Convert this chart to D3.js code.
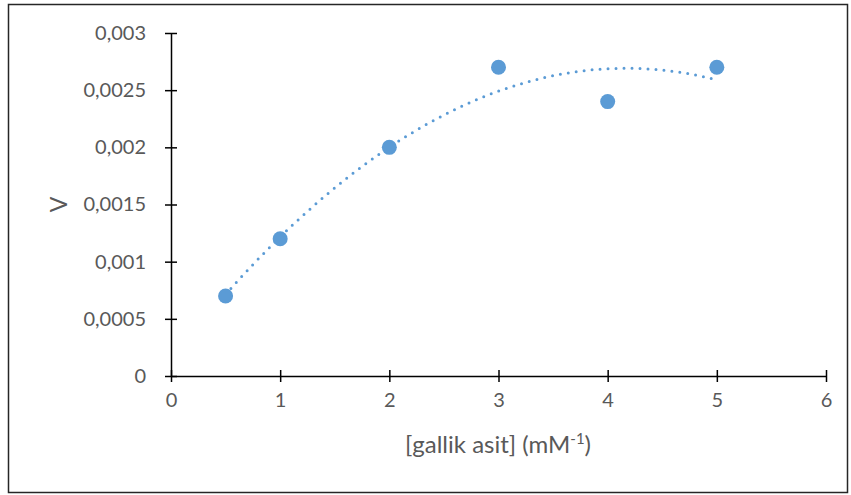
<!DOCTYPE html>
<html>
<head>
<meta charset="utf-8">
<script src="https://cdn.jsdelivr.net/npm/d3@7"></script>
<style>
  body { margin: 0; background: #fff; }
  svg { display: block; }
  text { font-family: Lato, "Open Sans", sans-serif; fill: #595959; }
</style>
</head>
<body>
<svg id="chart" width="851" height="495"></svg>
<script>
// Measured points
const concentrations = [0.5, 1, 2, 3, 4, 5];
const velocities = [0.0007, 0.0012, 0.002, 0.0027, 0.0024, 0.0027];
const xTicks = [0, 1, 2, 3, 4, 5, 6];
const yTicks = [0, 0.0005, 0.001, 0.0015, 0.002, 0.0025, 0.003];

const svg = d3.select("#chart");
const color = "#5B9BD5";
const font = "Lato, 'Open Sans', sans-serif";

// Outer frame
svg.append("rect")
  .attr("x", 8.5).attr("y", 4.5)
  .attr("width", 839).attr("height", 488)
  .attr("fill", "#fff").attr("stroke", "#262626").attr("stroke-width", 1.5);

const x = d3.scaleLinear().domain([0, 6]).range([171, 826]);
const y = d3.scaleLinear().domain([0, 0.003]).range([376, 33]);

const fmt = d => d === 0 ? "0" : String(d).replace(".", ",");

// Axes with ticks crossing the line
const xAxis = svg.append("g").attr("transform", `translate(0,${y(0)})`)
  .call(d3.axisBottom(x).tickValues(xTicks).tickSize(0).tickPadding(24).tickFormat(d => d));
xAxis.selectAll(".tick").append("line").attr("y1", -6).attr("y2", 6);

const yAxis = svg.append("g").attr("transform", `translate(${x(0)},0)`)
  .call(d3.axisLeft(y).tickValues(yTicks).tickSize(0).tickPadding(25).tickFormat(fmt));
yAxis.selectAll(".tick").append("line").attr("x1", -6).attr("x2", 6);

[xAxis, yAxis].forEach(g => {
  g.select(".domain").attr("stroke", "#000").attr("stroke-width", 1.5);
  g.selectAll(".tick line").attr("stroke", "#000").attr("stroke-width", 1.5);
  g.selectAll(".tick text").attr("fill", "#595959").style("font-size", "20px")
    .style("font-family", font);
});
xAxis.selectAll(".tick text").attr("dy", "0.36em")
  .attr("dominant-baseline", "auto");

// Second-order least-squares trendline
function polyFit2(xs, ys) {
  let S = [0,0,0,0,0], T = [0,0,0];
  xs.forEach((xi, i) => {
    for (let k = 0; k < 5; k++) S[k] += Math.pow(xi, k);
    for (let k = 0; k < 3; k++) T[k] += ys[i] * Math.pow(xi, k);
  });
  const A = [[S[0],S[1],S[2],T[0]],[S[1],S[2],S[3],T[1]],[S[2],S[3],S[4],T[2]]];
  for (let c = 0; c < 3; c++) {
    for (let r = c + 1; r < 3; r++) {
      const f = A[r][c] / A[c][c];
      for (let k = c; k < 4; k++) A[r][k] -= f * A[c][k];
    }
  }
  const b = [0,0,0];
  for (let r = 2; r >= 0; r--) {
    let s = A[r][3];
    for (let k = r + 1; k < 3; k++) s -= A[r][k] * b[k];
    b[r] = s / A[r][r];
  }
  return b;
}
const coef = polyFit2(concentrations, velocities);
const xMin = d3.min(concentrations), xMax = d3.max(concentrations);
const curve = d3.range(0, 101).map(i => {
  const xv = xMin + (xMax - xMin) * i / 100;
  return [xv, coef[0] + coef[1] * xv + coef[2] * xv * xv];
});
svg.append("path")
  .datum(curve)
  .attr("d", d3.line().x(d => x(d[0])).y(d => y(d[1])))
  .attr("fill", "none").attr("stroke", color).attr("stroke-width", 3)
  .attr("stroke-linecap", "round").attr("stroke-dasharray", "0 8");

// Data markers
svg.append("g").selectAll("circle")
  .data(concentrations.map((c, i) => [c, velocities[i]]))
  .join("circle")
  .attr("cx", d => x(d[0])).attr("cy", d => y(d[1])).attr("r", 7.5)
  .attr("fill", color);

// Axis titles
const xt = svg.append("text").attr("x", 498).attr("y", 453)
  .attr("text-anchor", "middle").style("font-size", "24px");
xt.append("tspan").text("[gallik asit] (mM");
xt.append("tspan").attr("dy", -9).style("font-size", "15px").text("-1");
xt.append("tspan").attr("dy", 9).text(")");

svg.append("text")
  .attr("transform", `translate(58,${y(0.0015)}) rotate(-90)`)
  .attr("text-anchor", "middle").attr("dominant-baseline", "central")
  .style("font-size", "23px").text("V");
</script>
</body>
</html>
